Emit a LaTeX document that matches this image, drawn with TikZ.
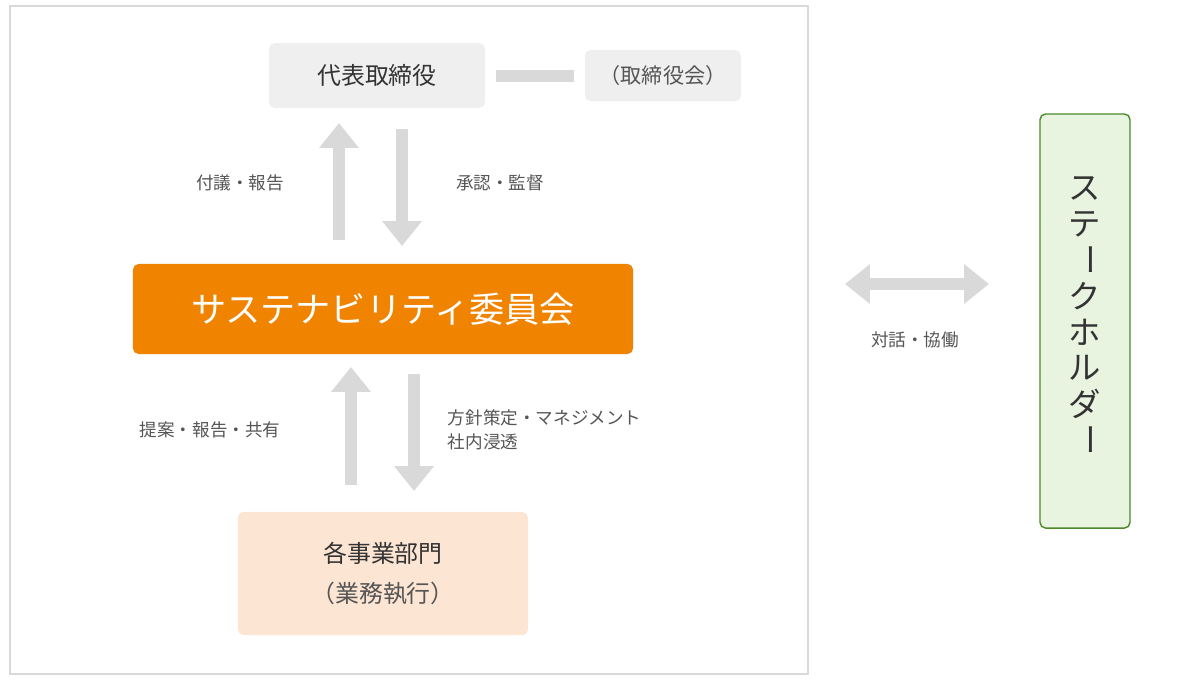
\documentclass[tikz,border=0pt]{standalone}
\usepackage{fontspec}
\setmainfont{Noto Sans CJK JP}
\usetikzlibrary{arrows.meta, positioning}
\definecolor{boxgray}{HTML}{EFEFEF}
\definecolor{arrowgray}{HTML}{D9D9D9}
\definecolor{sustorange}{HTML}{F08300}
\definecolor{deptpeach}{HTML}{FDE5D3}
\definecolor{stakegreen}{HTML}{E8F3E0}
\definecolor{stakeborder}{HTML}{4A8A2A}
\definecolor{textgray}{HTML}{555555}
\tikzset{%
	gray box/.style={
		fill=boxgray,
		rounded corners=4pt,
		text=black!80
	},
	flow arrow/.style={
		draw=arrowgray,
		line width=0.3cm,
		-{Triangle[width=0.95cm,length=0.62cm]}
	},
	flow label/.style={
		text=textgray,
		font=\fontsize{12.5}{17}\selectfont
	},
}
\begin{document}
\begin{tikzpicture}[x=0.025cm,y=-0.025cm]
	\useasboundingbox (0,0) rectangle (1200,680);
	\draw[black!15, line width=1.2pt] (10,6) rectangle (808,674);
	
	% board
	\node[gray box, minimum width=5.4cm, minimum height=1.62cm, font=\fontsize{17}{20}\selectfont] (ceo) at (377,75.5) {代表取締役};
	\node[gray box, minimum width=3.9cm, minimum height=1.28cm, text=textgray, font=\fontsize{15}{18}\selectfont] (board) at (663,75.5) {（取締役会）};
	\coordinate (b1) at (496,75.5); \coordinate (b2) at (574,75.5);
	\draw[arrowgray, line width=0.3cm] (b1) -- (b2);
	
	% committee
	\node[fill=sustorange, rounded corners=4pt, minimum width=12.5cm, minimum height=2.25cm, text=white, font=\fontsize{25}{30}\selectfont] (comm) at (383,309) {サステナビリティ委員会};
	
	% departments
	\node[fill=deptpeach, rounded corners=4pt, minimum width=7.25cm, minimum height=3.08cm, align=center, text=black!80, font=\fontsize{17}{28}\selectfont] (dept) at (383,573.5) {各事業部門\\{\color{textgray}（業務執行）}};
	
	% arrows top
	\coordinate (u1) at (339,240); \coordinate (u2) at (339,123);
	\coordinate (d1) at (402,129); \coordinate (d2) at (402,246);
	\draw[flow arrow] (u1) -- (u2);
	\draw[flow arrow] (d1) -- (d2);
	\node[flow label] (report) at (240,183) {付議・報告};
	\node[flow label] (approve) at (500,183) {承認・監督};
	
	% arrows bottom
	\coordinate (u3) at (351,485); \coordinate (u4) at (351,367);
	\coordinate (d3) at (414,374); \coordinate (d4) at (414,491);
	\draw[flow arrow] (u3) -- (u4);
	\draw[flow arrow] (d3) -- (d4);
	\node[flow label] (propose) at (210,430) {提案・報告・共有};
	\node[flow label, anchor=west, align=left] (policy) at (443,430) {方針策定・マネジメント\\社内浸透};
	
	% stakeholders
	\node[fill=stakegreen, draw=stakeborder, line width=1pt, rounded corners=4pt, minimum width=2.25cm, minimum height=10.35cm] (stake) at (1085,321) {};
	\foreach \ch [count=\i] in {ス,テ,,ク,ホ,ル,ダ,}
		\node[text=black!80, font=\fontsize{23}{23}\selectfont] (s\i) at (1085,188+\i*36-36) {\ch};
	\node[text=black!80, font=\fontsize{23}{23}\selectfont, rotate=-90] at (s3) {ー};
	\node[text=black!80, font=\fontsize{23}{23}\selectfont, rotate=-90] at (s8) {ー};
	\coordinate (h1) at (845,284); \coordinate (h2) at (989,284);
	\draw[flow arrow, {Triangle[width=0.95cm,length=0.62cm]}-{Triangle[width=0.95cm,length=0.62cm]}] (h1) -- (h2);
	\node[flow label] (dialog) at (915,340) {対話・協働};
\end{tikzpicture}
\end{document}
